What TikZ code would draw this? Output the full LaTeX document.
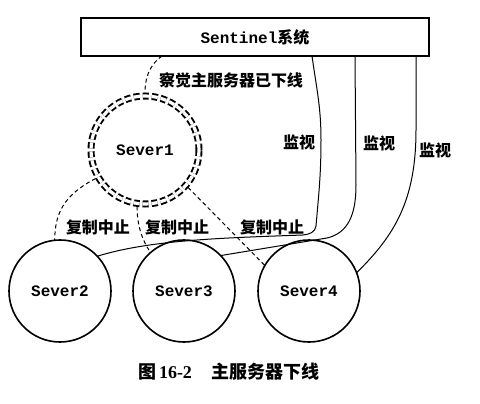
\documentclass[tikz,border=0pt]{standalone}
\usepackage{fontspec}
\newfontfamily\cjk{Noto Sans CJK SC}
\newfontfamily\mono{Liberation Mono}
\newfontfamily\serifb{Liberation Serif}
\tikzset{
  lbl/.style={font=\cjk\bfseries\fontsize{16pt}{16pt}\selectfont, inner sep=0pt},
  srv/.style={circle, draw, line width=1.6pt, minimum size=102pt, inner sep=0pt, outer sep=0pt,
    font=\mono\bfseries\fontsize{16pt}{16pt}\selectfont},
  master/.style={circle, draw, line width=1.9pt, double, double distance=3.2pt,
    dash pattern=on 6pt off 3pt, minimum size=108pt, inner sep=0pt, outer sep=3pt,
    font=\mono\bfseries\fontsize{16pt}{16pt}\selectfont},
  sysbox/.style={draw, line width=1.5pt, minimum width=348pt, minimum height=38pt,
    inner sep=0pt, outer sep=0pt, font=\mono\bfseries\fontsize{16pt}{16pt}\selectfont},
  repl/.style={line width=1pt, dash pattern=on 4pt off 3pt},
  watch/.style={line width=1pt},
}
\begin{document}
\begin{tikzpicture}[x=1pt,y=-1pt]
\useasboundingbox (0,0) rectangle (480,404);
\node[sysbox] (S) at (255,37) {Sentinel{\cjk\bfseries 系统}};
\node[master] (s1) at (145,150) {Sever1};
\node[srv] (s2) at (60,291) {Sever2};
\node[srv] (s3) at (184,291) {Sever3};
\node[srv] (s4) at (309,291) {Sever4};
\coordinate (b0) at (162,56);
\coordinate (b1) at (312,56);
\coordinate (b2) at (355,56);
\coordinate (b3) at (416,56);
% detection
\draw[repl] (b0) .. controls (148,66) and (145,80) .. (s1.90);
\node[lbl] (det) at (231,80) {察觉主服务器已下线};
% replication stopped
\draw[repl] (s1.210) .. controls (62,196) and (55,215) .. (s2.96);
\draw[repl] (s1.262) .. controls (137,225) and (142,240) .. (s3.131);
\draw[repl] (s1.319) -- (s4.150);
\node[lbl] (r1) at (98,227) {复制中止};
\node[lbl] (r2) at (177,227) {复制中止};
\node[lbl] (r3) at (272,227) {复制中止};
% monitoring
\draw[watch] (b1) to[out=-82,in=90] (321,140) to[out=-90,in=85] (316,226)
  to[out=-95,in=5] (303,235) .. controls (220,238) and (150,240) .. (s2.43);
\draw[watch] (b2) -- (356,185) .. controls (356,215) and (348,233) .. (327,238) -- (s3.44);
\draw[watch] (b3) -- (416,130) .. controls (416,200) and (395,235) .. (s4.21);
\node[lbl] (w1) at (299,142) {监视};
\node[lbl] (w2) at (379,143) {监视};
\node[lbl] (w3) at (435,150) {监视};
% caption
\node[font=\cjk\bfseries\fontsize{18pt}{18pt}\selectfont, inner sep=0pt] (cap) at (229,372)
  {图\,{\serifb\bfseries 16-2}\hspace{20pt}主服务器下线};
\end{tikzpicture}
\end{document}
